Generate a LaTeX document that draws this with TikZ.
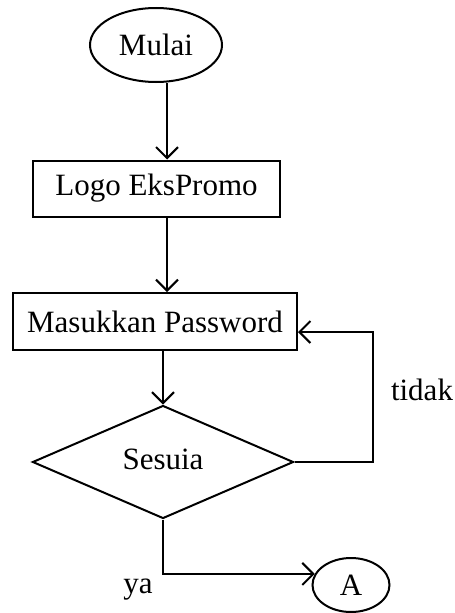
\documentclass[tikz,border=0pt]{standalone}
\usepackage{fontspec}
\setmainfont{Liberation Serif}
\usetikzlibrary{shapes.geometric,arrows.meta}

\begin{document}
\begin{tikzpicture}[x=1pt,y=-1pt,
  every node/.style={font=\fontsize{31}{36}\selectfont},
  shapeline/.style={draw=black,line width=2pt,inner sep=0pt},
  terminal/.style={shapeline,ellipse},
  process/.style={shapeline,rectangle},
  decision/.style={shapeline,diamond,aspect=2.31},
  plain/.style={inner sep=0pt},
  flow/.style={line width=2pt,-{Straight Barb[length=11pt,width=22pt,line width=2pt]}}
]
\useasboundingbox (0,0) rectangle (455,613);

% nodes of the chart
\node[terminal,minimum width=132pt,minimum height=74pt] (mulai) at (156,45) {Mulai};
\node[process,minimum width=247pt,minimum height=56pt] (logo) at (156.5,188.5) {Logo EksPromo};
\node[process,minimum width=284pt,minimum height=57pt] (pass) at (155,321.5) {Masukkan Password};
\node[decision,minimum width=261pt,minimum height=113pt] (cek) at (163,462) {\raisebox{6pt}{Sesuia}};
\node[terminal,minimum width=77pt,minimum height=54pt] (a) at (351,585) {A};

% branch labels
\node[plain] (tidak) at (422,390) {tidak};
\node[plain] (ya) at (138,590) {ya};

% connectors
\draw[flow] ([xshift=11pt]mulai.south) -- ([xshift=10.5pt]logo.north);
\draw[flow] ([xshift=10.5pt]logo.south) -- ([xshift=12pt]pass.north);
\draw[flow] (pass.south -| cek.north) -- (cek.north);
\draw[flow] (cek.east) -- ++(78.5,0) |- ([yshift=-10.5pt]pass.east);
\draw[flow] (cek.south) |- (a.163);
\end{tikzpicture}
\end{document}
